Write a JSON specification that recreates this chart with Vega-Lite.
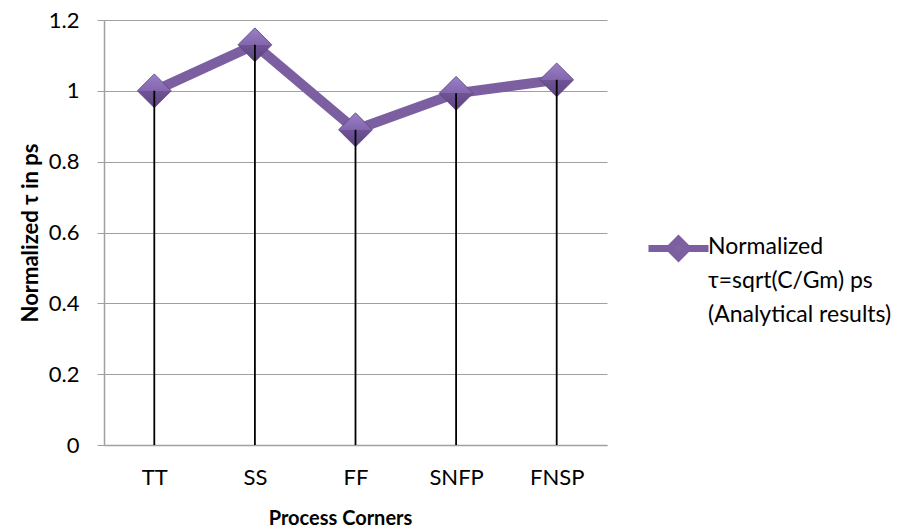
{
  "$schema": "https://vega.github.io/schema/vega-lite/v6.json",
  "autosize": "none",
  "width": 503,
  "height": 425,
  "padding": {"left": 104, "top": 20, "right": 298, "bottom": 85},
  "background": "white",
  "config": {
    "font": "Lato",
    "view": {"stroke": null}
  },
  "data": {
    "values": [
      {"corner": "TT", "tau": 1.0, "series": "Normalized|τ=sqrt(C/Gm) ps|(Analytical results)"},
      {"corner": "SS", "tau": 1.13, "series": "Normalized|τ=sqrt(C/Gm) ps|(Analytical results)"},
      {"corner": "FF", "tau": 0.89, "series": "Normalized|τ=sqrt(C/Gm) ps|(Analytical results)"},
      {"corner": "SNFP", "tau": 0.993, "series": "Normalized|τ=sqrt(C/Gm) ps|(Analytical results)"},
      {"corner": "FNSP", "tau": 1.031, "series": "Normalized|τ=sqrt(C/Gm) ps|(Analytical results)"}
    ]
  },
  "encoding": {
    "x": {
      "field": "corner",
      "type": "nominal",
      "sort": null,
      "scale": {"type": "point", "padding": 0.5},
      "axis": {
        "title": "Process Corners",
        "titleFontSize": 20,
        "titleFontWeight": "bold",
        "titleColor": "#000000",
        "titlePadding": 20,
        "titleX": 236,
        "labelAngle": 0,
        "labelFontSize": 22,
        "labelColor": "#000000",
        "labelPadding": 22,
        "ticks": false,
        "domainColor": "#A0A0A0",
        "domainWidth": 1.5,
        "grid": false
      }
    },
    "y": {
      "field": "tau",
      "type": "quantitative",
      "scale": {"domain": [0, 1.2]},
      "axis": {
        "title": "Normalized τ in ps",
        "titleFontSize": 22,
        "titleFontWeight": "bold",
        "titleColor": "#000000",
        "titlePadding": 6,
        "labelFontSize": 22,
        "labelColor": "#000000",
        "labelPadding": 18,
        "values": [0, 0.2, 0.4, 0.6, 0.8, 1, 1.2],
        "format": "~g",
        "labelOverlap": false,
        "tickSize": 7,
        "tickColor": "#A0A0A0",
        "domainColor": "#A0A0A0",
        "domainWidth": 1.5,
        "gridColor": "#A0A0A0",
        "gridWidth": 1.2,
        "grid": true
      }
    }
  },
  "layer": [
    {
      "mark": {"type": "line", "strokeWidth": 10, "strokeCap": "butt", "strokeJoin": "miter"},
      "encoding": {
        "stroke": {
          "field": "series",
          "type": "nominal",
          "scale": {"range": ["#7B5FA0"]},
          "legend": {
            "title": null,
            "orient": "none",
            "legendX": 561,
            "legendY": 215,
            "symbolType": "M-3,0 L-0.6,0 M0.6,0 L3,0 M-0.9,0 L0,-0.9 L0.9,0 L0,0.9 Z",
            "symbolSize": 400,
            "symbolStrokeWidth": 7,
            "symbolFillColor": "#8064A2",
            "labelOffset": 16,
            "labelFontSize": 23,
            "labelColor": "#000000",
            "labelBaseline": "top",
            "labelExpr": "split(datum.label, '|')",
            "labelLimit": 400,
            "encode": {
              "labels": {
                "update": {
                  "lineHeight": {"value": 34},
                  "dy": {"value": -13}
                }
              }
            }
          }
        }
      }
    },
    {
      "mark": {
        "type": "point",
        "shape": "diamond",
        "size": 1150,
        "filled": true,
        "opacity": 1,
        "fill": {
          "gradient": "linear",
          "x1": 0, "y1": 0, "x2": 0, "y2": 1,
          "stops": [
            {"offset": 0, "color": "#9A80C6"},
            {"offset": 0.5, "color": "#8366AE"},
            {"offset": 0.5, "color": "#6F5396"},
            {"offset": 1, "color": "#5E4582"}
          ]
        },
        "stroke": "#5A4478",
        "strokeWidth": 0.8
      }
    },
    {
      "mark": {"type": "rule", "color": "#000000", "strokeWidth": 1.8},
      "encoding": {
        "y2": {"datum": 0}
      }
    }
  ]
}
